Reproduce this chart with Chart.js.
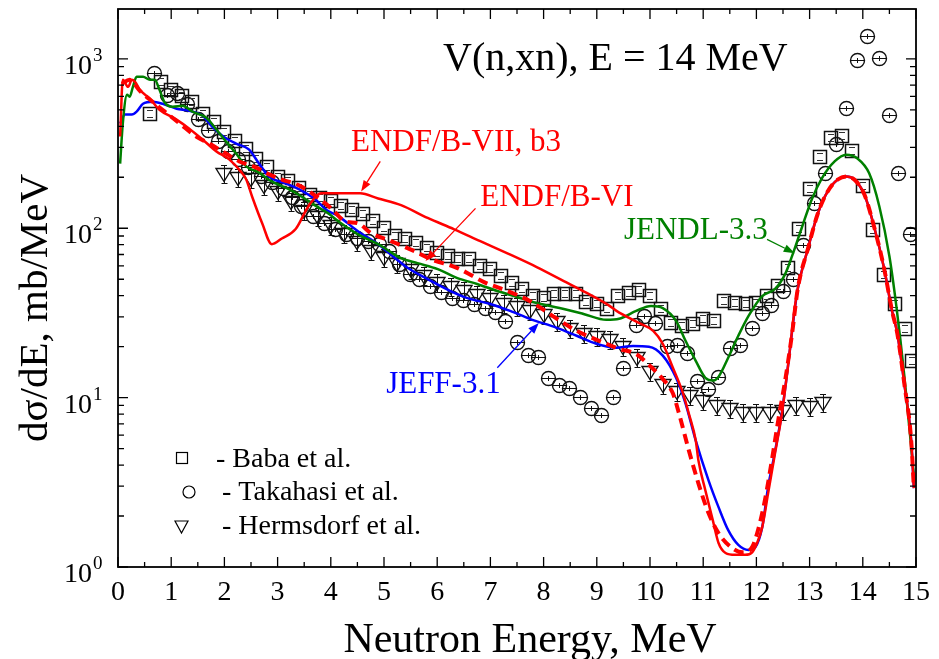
<!DOCTYPE html>
<html><head><meta charset="utf-8">
<script src="https://cdn.jsdelivr.net/npm/chart.js@4.4.0/dist/chart.umd.min.js"></script>
<style>html,body{margin:0;padding:0;background:#fff;}</style>
</head><body>
<canvas id="c" width="939" height="659" style="width:939px;height:659px;display:block"></canvas>
<script>
// ---------------- data ----------------
const endf7X = [0.04,0.09,0.19,0.26,0.32,0.41,0.60,0.78,1.10,1.34,1.59,1.85,2.09,2.31,2.41,2.52,2.71,2.89,3.08,3.34,3.58,3.82,4.01,4.55,4.89,5.32,5.82,6.32,6.81,7.31,7.87,8.38,8.81,9.24,9.37,9.79,10.06,10.24,10.43,10.62,10.73,10.86,10.91,11.04,11.18,11.29,11.42,11.60,11.79,11.92,12.01,12.11,12.22,12.35,12.48,12.59,12.72,12.78,12.97,13.15,13.34,13.53,13.69,13.84,14.03,14.22,14.40,14.55,14.65,14.78,14.91,14.96];
const endf7Y = [348,752,684,752,732,657,582,501,438,387,334,284,255,216,194,154,107,80.5,87,99,135,161,161,161,150,137,115,98.6,83.9,71.3,59,48.8,41.5,34.8,32.5,27.6,24.8,20.8,15.0,10.6,8.05,5.58,4.26,2.84,1.89,1.38,1.21,1.18,1.18,1.22,1.38,1.72,2.72,4.69,8.05,15.0,33.8,44.4,76,121,165,194,202,194,158,100,58,32.5,23.8,12.1,5.58,2.92];

const endf6X = [0.07,0.22,0.41,0.65,0.88,1.16,1.47,1.72,2.03,2.28,2.59,2.84,3.08,3.40,3.64,4.01,4.27,4.51,4.76,5.13,5.58,5.88,6.38,6.88,7.37,7.74,8.25,8.62,9.05,9.42,9.74,9.98,10.24,10.43,10.54,10.73,10.91,11.10,11.29,11.55,11.74,11.92,12.03,12.16,12.29,12.41,12.54,12.67,12.78,12.97,13.15,13.34,13.53,13.69,13.84,14.03,14.22,14.40,14.55,14.65,14.78,14.91,14.96];
const endf6Y = [713,752,648,558,488,415,348,316,276,248,229,208,194,179,161,131,110,107,93.5,84,73,65.7,58.2,48.1,42,37.2,29.2,24.8,21.6,19.4,18.1,15.6,12.9,10.6,8.17,4.88,3.12,2.08,1.58,1.29,1.22,1.31,1.65,2.48,4.26,7.33,12.6,23.8,44.4,76,121,165,194,202,194,158,100,58,32.5,23.8,12.1,5.58,2.92];

const jeffX = [0.04,0.13,0.26,0.35,0.47,0.65,0.84,1.10,1.34,1.59,1.77,1.96,2.22,2.46,2.65,2.84,3.15,3.45,3.71,3.92,4.14,4.51,4.89,5.21,5.45,5.82,6.25,6.57,7.00,7.37,7.74,8.25,8.62,8.99,9.37,9.68,9.98,10.24,10.49,10.67,10.86,11.10,11.29,11.47,11.66,11.85,11.98,12.11,12.22,12.35,12.48,12.59,12.72,12.78,12.97,13.15,13.34,13.53,13.69,13.84,14.03,14.22,14.40,14.55,14.65,14.78,14.91,14.96];
const jeffY = [415,469,469,488,543,558,543,508,494,462,398,352,316,292,241,202,184,167,148,128,118,96,80.5,66.6,58.2,50.1,42.6,38.7,35.7,32.5,29.2,25.8,23.2,20.8,19.7,20.2,20,17.7,13.1,9.2,5.58,3.25,2.25,1.65,1.35,1.26,1.31,1.72,2.96,4.8,8.2,15,33,44.4,76,121,165,194,202,194,158,100,58,32.5,23.8,12.1,5.58,2.92];

const jendlX = [0.04,0.09,0.17,0.22,0.28,0.35,0.47,0.60,0.69,0.78,0.88,1.03,1.21,1.40,1.66,1.85,2.03,2.22,2.41,2.65,2.89,3.21,3.45,3.71,3.96,4.14,4.51,4.89,5.32,5.63,6.01,6.38,6.75,7.13,7.50,7.87,8.30,8.75,9.18,9.42,9.74,10.02,10.24,10.49,10.67,10.86,11.04,11.18,11.29,11.47,11.66,11.85,12.11,12.35,12.54,12.67,12.85,13.04,13.23,13.47,13.69,13.90,14.12,14.31,14.50,14.63,14.78,14.96];
const jendlY = [241,415,614,597,684,784,784,752,752,657,551,522,529,488,449,382,325,276,232,213,189,170,154,136,122,110,92,80.5,66.6,62.2,57.4,50.8,46.9,42.6,39.3,36.2,33.8,31.2,28.8,29.2,32.5,34.8,33.8,28.4,21.6,16.5,13.1,12.6,13.3,17.2,23.2,30.3,39.8,43.8,53.6,68.4,100,148,197,248,272,258,211,135,68.4,34.8,13.5,3.48];

const babaX = [0.6,0.8,1.0,1.2,1.4,1.6,1.8,2.0,2.2,2.4,2.6,2.8,3.0,3.2,3.4,3.6,3.8,4.0,4.2,4.4,4.6,4.8,5.0,5.2,5.4,5.6,5.8,6.0,6.2,6.4,6.6,6.8,7.0,7.2,7.4,7.6,7.8,8.0,8.2,8.4,8.6,8.8,9.0,9.2,9.4,9.6,9.8,10.0,10.2,10.4,10.6,10.8,11.0,11.2,11.4,11.6,11.8,12.0,12.2,12.4,12.6,12.8,13.0,13.2,13.4,13.6,13.8,14.0,14.2,14.4,14.6,14.8,14.93];
const babaY = [475,732,657,606,558,475,426,372,329,292,255,229,202,189,174,158,150,144,135,129,121,110,100,89.7,86.2,81.6,76.3,71.3,68.4,65.7,65.7,59.7,57.4,52.2,47.5,43.8,39.8,38.7,40.9,40.9,40.9,36.7,35.7,33.4,39.8,41.5,43.2,39.8,33.4,27.6,26.5,27.3,29.2,28.4,37.2,36.2,35.7,36.2,39.8,45.6,58.2,98.7,170,265,343,352,284,177,97.3,52.9,35.7,25.5,16.5];

const takaX = [0.69,0.93,1.12,1.31,1.51,1.70,1.88,2.07,2.26,2.46,2.69,2.91,3.12,3.28,3.45,3.68,3.88,4.09,4.29,4.50,4.70,4.91,5.11,5.30,5.49,5.67,5.88,6.08,6.29,6.49,6.70,6.90,7.09,7.29,7.50,7.71,7.91,8.10,8.30,8.49,8.69,8.90,9.09,9.31,9.50,9.74,9.89,10.11,10.32,10.52,10.71,10.90,11.10,11.29,11.51,11.70,11.92,12.11,12.29,12.50,12.69,12.89,13.10,13.30,13.51,13.69,13.90,14.09,14.31,14.50,14.68,14.89];
const takaY = [816,606,622,536,438,377,325,284,255,229,202,187,172,152,135,118,107,98.7,92,87,84,80.5,73.2,61.4,53.6,49.5,45.6,41.5,38.7,37.2,35.7,33.8,31.6,28.0,21.3,17.7,17.2,12.9,11.8,11.3,10.0,8.6,7.84,10.0,14.8,26.5,30,27.3,20,20.2,18.1,12.4,11.1,13.1,19.4,20.2,25.5,31.2,35.2,42.6,50.1,79.4,140,211,312,508,973,1347,1000,462,211,92];

const hermX = [2.0,2.25,2.5,2.75,3.0,3.25,3.5,3.75,4.0,4.25,4.5,4.75,5.0,5.25,5.5,5.75,6.0,6.25,6.5,6.75,7.0,7.25,7.5,7.75,8.0,8.25,8.5,8.75,9.0,9.25,9.5,9.75,10.0,10.25,10.5,10.75,11.0,11.25,11.5,11.75,12.0,12.25,12.5,12.75,13.0,13.25];
const hermY = [213,200,197,181,165,144,129,118,104,93.5,83.9,74.2,67.5,62.2,57.4,52.9,48.1,45.6,43.2,40.9,38.7,36.2,34.8,32.9,31.2,28.4,25.8,24.1,23.2,22.2,20.2,17.4,14.4,12.1,11.0,10.4,9.73,9.1,8.73,8.27,8.27,8.27,8.5,9.1,8.97,9.47];

const xTickLabels = ['0','1','2','3','4','5','6','7','8','9','10','11','12','13','14','15'];
const yDecades = [0,1,2,3];
const yTickLabelsBase = ['10','10','10','10'];
const yTickLabelsExp = ['0','1','2','3'];

const legendLabels = ['- Baba et al.','- Takahasi et al.','- Hermsdorf et al.'];
const curveLabels = ['ENDF/B-VII, b3','ENDF/B-VI','JEFF-3.1','JENDL-3.3'];

// ------------- styles -------------
const FONT = '"Liberation Serif","Times New Roman",Times,serif';
const RED = '#ff0000', BLUE = '#0000ff', GREEN = '#008000';

function pts(xs, ys){ return xs.map((x,i)=>({x:x, y:ys[i]})); }

function makeSquare(){
  const c=document.createElement('canvas'); c.width=16; c.height=16;
  const g=c.getContext('2d');
  g.strokeStyle='#111'; g.lineWidth=1.5; g.strokeRect(1.5,1.5,13,13);
  g.strokeStyle='#333'; g.lineWidth=1; g.beginPath();
  g.moveTo(5,4.5); g.lineTo(11,4.5); g.moveTo(5,11.5); g.lineTo(11,11.5); g.stroke();
  return c;
}
function makeCircle(){
  const c=document.createElement('canvas'); c.width=17; c.height=17;
  const g=c.getContext('2d');
  g.strokeStyle='#111'; g.lineWidth=1.4; g.beginPath(); g.arc(8.5,8.5,7,0,Math.PI*2); g.stroke();
  g.lineWidth=1; g.beginPath(); g.moveTo(1.5,8.5); g.lineTo(15.5,8.5); g.moveTo(8.5,6); g.lineTo(8.5,11); g.stroke();
  return c;
}
function makeTri(){
  const c=document.createElement('canvas'); c.width=20; c.height=24;
  const g=c.getContext('2d');
  g.strokeStyle='#111'; g.lineWidth=1.4; g.beginPath();
  g.moveTo(2,7.5); g.lineTo(18,7.5); g.lineTo(10,20.5); g.closePath(); g.stroke();
  g.lineWidth=1; g.beginPath();
  g.moveTo(7,4.5); g.lineTo(13,4.5); g.moveTo(10.5,4.5); g.lineTo(10.5,22.5); g.moveTo(7.5,22.5); g.lineTo(13.5,22.5); g.stroke();
  return c;
}
const sqImg = makeSquare(), ciImg = makeCircle(), trImg = makeTri();

// annotation placement (data coordinates)
const annotations = [
  {text:curveLabels[0], color:RED,   tx:4.38, ty:284, ax1:4.93, ay1:248, ax2:4.57, ay2:165},
  {text:curveLabels[1], color:RED,   tx:6.81, ty:135, ax1:6.72, ay1:131, ax2:5.78, ay2:64},
  {text:curveLabels[2], color:BLUE,  tx:5.04, ty:10.6, ax1:7.13, ay1:15, ax2:7.91, ay2:27.6},
  {text:curveLabels[3], color:GREEN, tx:9.51, ty:86, ax1:12.2, ay1:86, ax2:12.72, ay2:71.3}
];

function arrow(ctx, x1,y1,x2,y2,color){
  ctx.save(); ctx.strokeStyle=color; ctx.fillStyle=color; ctx.lineWidth=1.3;
  const ang=Math.atan2(y2-y1,x2-x1), L=11, W=4;
  const bx=x2-L*Math.cos(ang), by=y2-L*Math.sin(ang);
  ctx.beginPath(); ctx.moveTo(x1,y1); ctx.lineTo(bx,by); ctx.stroke();
  ctx.beginPath(); ctx.moveTo(x2,y2);
  ctx.lineTo(bx+W*Math.sin(ang), by-W*Math.cos(ang));
  ctx.lineTo(bx-W*Math.sin(ang), by+W*Math.cos(ang)); ctx.closePath(); ctx.fill();
  ctx.restore();
}

const crisp = {
  id:'crisp',
  beforeDatasetsDraw(chart){ chart.ctx.imageSmoothingEnabled = false; },
  afterDatasetsDraw(chart){ chart.ctx.imageSmoothingEnabled = true; }
};

const decor = {
  id:'decor',
  afterDraw(chart){
    const ctx=chart.ctx, a=chart.chartArea, xs=chart.scales.x, ys=chart.scales.y;
    ctx.save();
    ctx.strokeStyle='#000'; ctx.lineWidth=1.8;
    ctx.strokeRect(a.left, a.top, a.right-a.left, a.bottom-a.top);
    ctx.lineWidth=1.3; ctx.beginPath();
    for(let i=0;i<=30;i++){
      const v=i*0.5, px=xs.getPixelForValue(v), len=(i%2===0)?10:5;
      ctx.moveTo(px,a.bottom); ctx.lineTo(px,a.bottom-len);
      ctx.moveTo(px,a.top); ctx.lineTo(px,a.top+len);
    }
    for(const d of yDecades){
      for(let k=1;k<=9;k++){
        const v=k*Math.pow(10,d); if(v>ys.max) break;
        const py=ys.getPixelForValue(v), len=(k===1)?10:6;
        ctx.moveTo(a.left,py); ctx.lineTo(a.left+len,py);
        ctx.moveTo(a.right,py); ctx.lineTo(a.right-len,py);
      }
    }
    ctx.stroke();
    // y tick labels with superscripts
    ctx.fillStyle='#000';
    yDecades.forEach((d,i)=>{
      const py=ys.getPixelForValue(Math.pow(10,d));
      ctx.font='28px '+FONT; ctx.textAlign='right'; ctx.textBaseline='alphabetic';
      ctx.fillText(yTickLabelsBase[i], 92, py+15);
      ctx.font='19px '+FONT; ctx.textAlign='left';
      ctx.fillText(yTickLabelsExp[i], 93, py+2);
    });
    // axis titles
    ctx.font='42px '+FONT; ctx.textAlign='center'; ctx.textBaseline='alphabetic';
    ctx.fillText('Neutron Energy, MeV', 530, 652);
    ctx.font='41px '+FONT;
    ctx.save(); ctx.translate(47, 308); ctx.rotate(-Math.PI/2);
    ctx.fillText('d\u03c3/dE, mb/MeV', 0, 0); ctx.restore();
    // plot title
    ctx.font='40px '+FONT; ctx.textAlign='left';
    ctx.fillText('V(n,xn), E = 14 MeV', 443, 70);
    // annotations
    ctx.font='31px '+FONT;
    for(const an of annotations){
      ctx.fillStyle=an.color; ctx.textAlign='left';
      ctx.fillText(an.text, xs.getPixelForValue(an.tx), ys.getPixelForValue(an.ty));
      arrow(ctx, xs.getPixelForValue(an.ax1), ys.getPixelForValue(an.ay1), xs.getPixelForValue(an.ax2), ys.getPixelForValue(an.ay2), an.color);
    }
    // legend
    ctx.fillStyle='#000'; ctx.strokeStyle='#000'; ctx.lineWidth=1.2;
    ctx.font='28px '+FONT;
    ctx.strokeRect(176.5,452.5,11,11);
    ctx.beginPath(); ctx.arc(189,492,6,0,Math.PI*2); ctx.stroke();
    ctx.beginPath(); ctx.moveTo(175,521); ctx.lineTo(188,521); ctx.lineTo(181.5,533); ctx.closePath(); ctx.stroke();
    ctx.fillText(legendLabels[0], 216, 467);
    ctx.fillText(legendLabels[1], 222, 500);
    ctx.fillText(legendLabels[2], 222, 534);
    ctx.restore();
  }
};

const lineDs = (label, xs, ys, color, width, dash, order) => ({
  type:'line', label, data:pts(xs,ys), borderColor:color, borderWidth:width,
  borderDash:dash, pointRadius:0, fill:false, cubicInterpolationMode:'monotone', order
});
const ptDs = (label, xs, ys, img, order) => ({
  type:'scatter', label, data:pts(xs,ys), showLine:false, pointStyle:img,
  pointRadius:8, order
});

new Chart(document.getElementById('c'), {
  data:{ datasets:[
    lineDs(curveLabels[0], endf7X, endf7Y, RED, 2.5, [], 1),
    lineDs(curveLabels[1], endf6X, endf6Y, RED, 4, [10,6], 2),
    lineDs(curveLabels[3], jendlX, jendlY, GREEN, 2.5, [], 3),
    lineDs(curveLabels[2], jeffX, jeffY, BLUE, 2.5, [], 4),
    ptDs(legendLabels[0], babaX, babaY, sqImg, 5),
    ptDs(legendLabels[1], takaX, takaY, ciImg, 6),
    ptDs(legendLabels[2], hermX, hermY, trImg, 7)
  ]},
  options:{
    responsive:false, animation:false, devicePixelRatio:1,
    layout:{padding:{left:0, right:17, top:8, bottom:0}},
    plugins:{legend:{display:false}, tooltip:{enabled:false}},
    scales:{
      x:{type:'linear', min:0, max:15,
        grid:{display:false, drawTicks:false}, border:{display:false},
        ticks:{stepSize:1, autoSkip:false, padding:9, color:'#000', font:{family:FONT, size:28},
          callback:(v)=> Number.isInteger(v) ? xTickLabels[v] : ''},
        afterFit:(s)=>{ s.height = 92; }
      },
      y:{type:'logarithmic', min:1, max:1970,
        grid:{display:false, drawTicks:false}, border:{display:false},
        ticks:{display:false},
        afterFit:(s)=>{ s.width = 118; }
      }
    }
  },
  plugins:[crisp, decor]
});
</script>
</body></html>
